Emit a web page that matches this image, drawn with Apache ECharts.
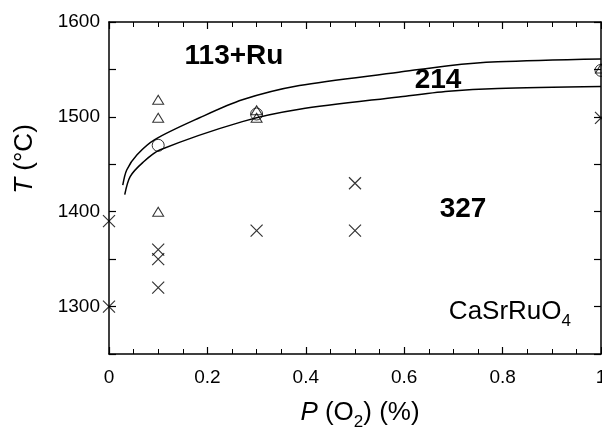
<!DOCTYPE html>
<html>
<head>
<meta charset="utf-8">
<script src="https://cdn.jsdelivr.net/npm/echarts@6/dist/echarts.min.js"></script>
<style>
  html, body { margin: 0; padding: 0; background: #fff; }
  #chart { width: 602px; height: 436px; }
</style>
</head>
<body>
<div id="chart"></div>
<script>
// phase boundaries (P in %, T in °C)
const upperLine = [[0.028,1428],[0.036,1444],[0.057,1460],[0.093,1476],[0.184,1499],[0.271,1518],[0.387,1533],[0.589,1547],[0.69,1554],[0.79,1558],[1.0,1561]]
const lowerLine = [[0.032,1418],[0.043,1437],[0.069,1452],[0.103,1465],[0.271,1495],[0.387,1508],[0.589,1521],[0.69,1527],[0.79,1530],[1.0,1532]]

// experimental points
const crossPts = [[0,1390],[0,1300],[0.1,1360],[0.1,1350],[0.1,1320],[0.3,1380],[0.5,1430],[0.5,1380],[1.0,1499]]
const trianglePts = [[0.1,1518],[0.1,1499],[0.1,1400],[0.3,1507],[0.3,1499],[1.0,1551]]
const circlePts = [[0.1,1470],[0.3,1503],[1.0,1549]]

const FONT = '"Liberation Sans", Arial, Helvetica, sans-serif'

const chart = echarts.init(document.getElementById('chart'))

// common axis look: black frame, ticks pointing inward
const xBase = {
  type: 'value', min: 0, max: 1, interval: 0.2,
  axisLine: { show: true, onZero: false, lineStyle: { color: '#000', width: 1.5 } },
  axisTick: { show: true, inside: true, length: 7, lineStyle: { color: '#000', width: 1.2 } },
  minorTick: { show: true, splitNumber: 4, length: 5, lineStyle: { color: '#000', width: 1 } },
  splitLine: { show: false }
}
const yBase = {
  type: 'value', min: 1250, max: 1600, interval: 50,
  axisLine: { show: true, onZero: false, lineStyle: { color: '#000', width: 1.5 } },
  axisTick: { show: true, inside: true, length: 7, lineStyle: { color: '#000', width: 1.2 } },
  splitLine: { show: false }
}

const subRich = {
  it: { fontStyle: 'italic', fontSize: 26, fontFamily: FONT, lineHeight: 36, fill: '#000' },
  sub: { fontSize: 17, fontFamily: FONT, lineHeight: 17, verticalAlign: 'bottom', fill: '#000' }
}

const option = {
  backgroundColor: '#fff',
  animation: false,
  grid: { left: 109, right: 1, top: 22, bottom: 82, outerBoundsMode: 'none', containLabel: false },
  xAxis: [
    {
      ...xBase,
      position: 'bottom',
      axisLabel: { color: '#000', fontSize: 19, fontFamily: FONT, margin: 14, hideOverlap: false }
    },
    { ...xBase, position: 'top', axisLabel: { show: false } }
  ],
  yAxis: [
    {
      ...yBase,
      position: 'left',
      axisLabel: {
        color: '#000', fontSize: 19, fontFamily: FONT, margin: 9,
        formatter: v => (v % 100 === 0 ? v : '')
      }
    },
    { ...yBase, position: 'right', axisLabel: { show: false } }
  ],
  series: [
    {
      type: 'line', data: upperLine, smooth: 0.3,
      showSymbol: false, lineStyle: { color: '#000', width: 1.5 }
    },
    {
      type: 'line', data: lowerLine, smooth: 0.3,
      showSymbol: false, lineStyle: { color: '#000', width: 1.5 }
    },
    {
      type: 'scatter', data: crossPts, clip: false,
      symbol: 'path://M0,0L10,10M10,0L0,10', symbolSize: 12,
      itemStyle: { color: 'none', borderColor: '#000', borderWidth: 1.2 }
    },
    {
      type: 'scatter', data: trianglePts, clip: false,
      symbol: 'triangle', symbolSize: [11, 9],
      itemStyle: { color: 'none', borderColor: '#000', borderWidth: 1 }
    },
    {
      type: 'scatter', data: circlePts, clip: false,
      symbol: 'circle', symbolSize: 12,
      itemStyle: { color: 'none', borderColor: '#000', borderWidth: 1 }
    }
  ],
  graphic: [
    // region labels
    { type: 'text', x: 234, y: 56, style: { text: '113+Ru', font: 'bold 28px ' + FONT, fill: '#000', align: 'center', verticalAlign: 'middle' } },
    { type: 'text', x: 438, y: 80, style: { text: '214', font: 'bold 28px ' + FONT, fill: '#000', align: 'center', verticalAlign: 'middle' } },
    { type: 'text', x: 463, y: 209, style: { text: '327', font: 'bold 28px ' + FONT, fill: '#000', align: 'center', verticalAlign: 'middle' } },
    {
      type: 'text', x: 571, y: 312,
      style: {
        text: 'CaSrRuO{sub|4}', font: '26px ' + FONT, lineHeight: 36, fill: '#000',
        align: 'right', verticalAlign: 'middle', rich: subRich
      }
    },
    // axis titles
    {
      type: 'text', x: 25, y: 159, rotation: Math.PI / 2,
      style: {
        text: '{it|T} (°C)', font: '26px ' + FONT, lineHeight: 36, fill: '#000',
        align: 'center', verticalAlign: 'middle', rich: subRich
      }
    },
    {
      type: 'text', x: 360, y: 413,
      style: {
        text: '{it|P} (O{sub|2}) (%)', font: '26px ' + FONT, lineHeight: 36, fill: '#000',
        align: 'center', verticalAlign: 'middle', rich: subRich
      }
    }
  ]
}

chart.setOption(option)
</script>
</body>
</html>
